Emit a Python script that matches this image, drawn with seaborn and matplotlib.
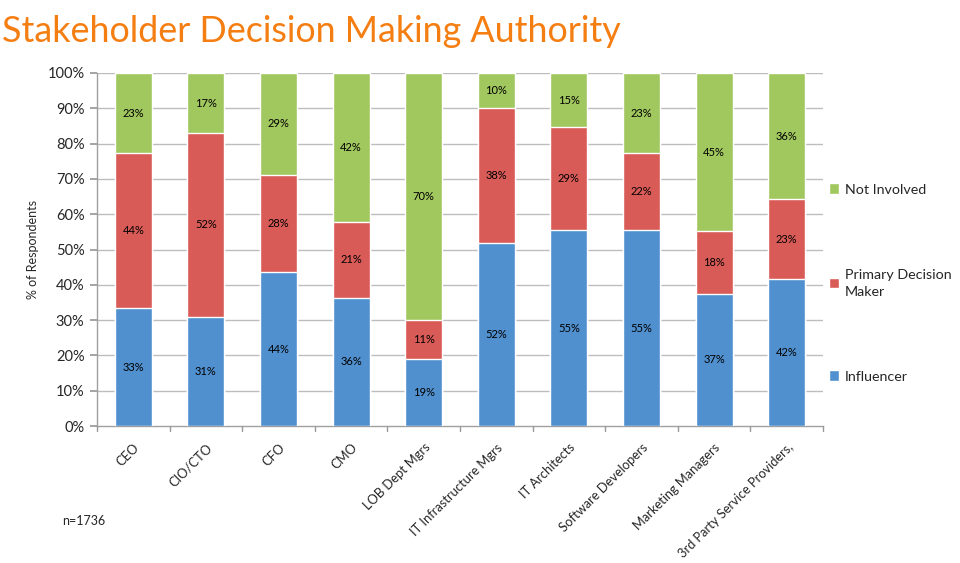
import matplotlib
matplotlib.use("Agg")
import matplotlib.pyplot as plt
import seaborn as sns
import pandas as pd
import numpy as np

categories = ["CEO", "CIO/CTO", "CFO", "CMO", "LOB Dept Mgrs", "IT Infrastructure Mgrs",
              "IT Architects", "Software Developers", "Marketing Managers",
              "3rd Party Service Providers,"]
influencer = [33.4, 30.9, 43.6, 36.4, 19.0, 51.8, 55.4, 55.4, 37.4, 41.6]
primary = [43.9, 52.1, 27.6, 21.4, 11.0, 38.3, 29.3, 21.8, 17.7, 22.6]
not_involved = [22.7, 17.0, 28.8, 42.2, 70.0, 9.9, 15.3, 22.8, 44.9, 35.8]
yticks = [0, 10, 20, 30, 40, 50, 60, 70, 80, 90, 100]

C_BLUE = "#5090CF"
C_RED = "#D95B57"
C_GREEN = "#A1C75F"

sns.set_theme(style="white")
plt.rcParams["font.family"] = ["Lato", "DejaVu Sans"]

df = pd.DataFrame({"cat": categories, "inf": influencer, "pri": primary, "ni": not_involved})
df["c1"] = df["inf"]
df["c2"] = df["inf"] + df["pri"]
df["c3"] = df["inf"] + df["pri"] + df["ni"]

fig = plt.figure(figsize=(9.6, 5.63), dpi=100)
ax = fig.add_axes([97 / 960, 1 - 426 / 563, 726 / 960, 353 / 563])

ax.set_axisbelow(True)
for y in yticks[1:]:
    ax.axhline(y, color="#BDBDBD", lw=1.0, zorder=0)

w = 0.51
sns.barplot(data=df, x="cat", y="c3", color=C_GREEN, saturation=1, width=w, ax=ax,
            label="Not Involved", zorder=2)
sns.barplot(data=df, x="cat", y="c2", color=C_RED, saturation=1, width=w, ax=ax,
            label="Primary Decision\nMaker", zorder=3)
sns.barplot(data=df, x="cat", y="c1", color=C_BLUE, saturation=1, width=w, ax=ax,
            label="Influencer", zorder=4)

for i, row in df.iterrows():
    for lo, val in [(0, row["inf"]), (row["c1"], row["pri"]), (row["c2"], row["ni"])]:
        ax.text(i, lo + val / 2, f"{int(round(val))}%", ha="center", va="center",
                fontsize=8, color="black", zorder=6)

ax.set_xlim(-0.5, len(categories) - 0.5)
ax.set_ylim(0, 100)
ax.set_yticks(yticks)
ax.set_yticklabels([f"{v}%" for v in yticks], fontsize=10.5)
ax.set_xticks(range(len(categories)))
ax.set_xticklabels(categories, rotation=45, ha="right", rotation_mode="anchor", fontsize=9.3)
ax.tick_params(axis="x", length=0, pad=11)
ax.tick_params(axis="y", length=5, color="#999999", direction="out", left=True, pad=4)
for x in np.arange(-0.5, len(categories), 1.0):
    ax.plot([x, x], [0, -1.3], color="#999999", lw=1, clip_on=False, zorder=5)
ax.set_xlabel("")
ax.set_ylabel("% of Respondents", fontsize=9, labelpad=6)
for s in ["top", "right"]:
    ax.spines[s].set_visible(False)
for s in ["left", "bottom"]:
    ax.spines[s].set_color("#A0A0A0")
    ax.spines[s].set_linewidth(1)

handles, labels = ax.get_legend_handles_labels()
leg = ax.legend(handles, labels, loc="center left", bbox_to_anchor=(0.99, 0.405),
                frameon=False, fontsize=10.3, labelspacing=5.1, handlelength=0.75,
                handleheight=0.75, handletextpad=0.4)
for t in leg.get_texts():
    t.set_linespacing(1.5)

fig.text(2 / 960, 1 - 31 / 563, "Stakeholder Decision Making Authority", color="#F57E13",
         fontsize=25.8, ha="left", va="center")
fig.text(62 / 960, 1 - 521 / 563, "n=1736", fontsize=9, ha="left", va="center")

fig.savefig("out.png", dpi=100)
